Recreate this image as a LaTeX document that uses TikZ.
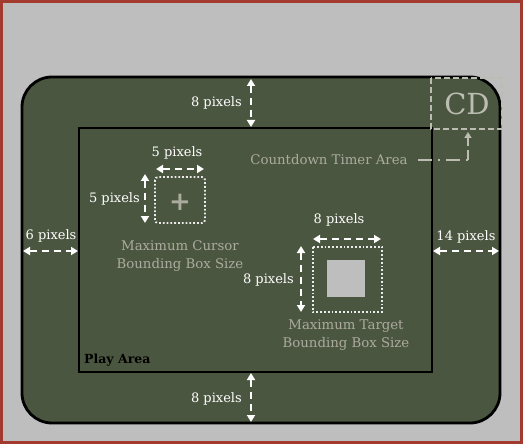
\documentclass[tikz,border=0pt]{standalone}
\usepackage{fontspec}
\setmainfont{DejaVu Serif}
\usetikzlibrary{arrows.meta}

\definecolor{frameRed}{HTML}{A33A2F}
\definecolor{screenGray}{HTML}{BEBEBE}
\definecolor{fieldGreen}{HTML}{4B5640}
\definecolor{noteGray}{HTML}{ABAB9F}

\tikzset{
  dimarrow/.style={white, line width=2.2pt, dash pattern=on 7pt off 5pt,
    {Triangle[width=8pt,length=7pt]}-{Triangle[width=8pt,length=7pt]}},
  dimlabel/.style={white, font=\fontsize{13}{15}\selectfont, inner sep=1pt},
  notelabel/.style={noteGray, font=\fontsize{13.3}{15}\selectfont, align=center, inner sep=0pt},
  boxline/.style={white!85!gray, line width=1.8pt, dotted},
}

\begin{document}
\begin{tikzpicture}[x=1pt,y=-1pt]

    % 背景
    \fill[frameRed] (0,0) rectangle (523,444);
    \fill[screenGray] (3,3) rectangle (520,441);
    \useasboundingbox (0,0) rectangle (523,444);

    % 画面と領域
    \fill[fieldGreen, rounded corners=30pt] (22,77) rectangle (500,423);
    \draw[black, line width=2.8pt, rounded corners=30pt] (22,77) rectangle (500,423);
    \draw[black, line width=2.8pt] (79,128) rectangle (432,372);
    \node[anchor=south west, font=\bfseries\fontsize{12.5}{14}\selectfont, inner sep=0pt] (play) at (84,366) {Play Area};

    % カウントダウン領域
    \draw[noteGray!80!white, line width=1.5pt, dash pattern=on 6pt off 3pt] (431,78) rectangle (502,129);
    \node[noteGray!80!white, font=\fontsize{29}{31}\selectfont] (cd) at (467,104) {CD};
    \node[notelabel] (timer) at (329,160) {Countdown Timer Area};
    \coordinate (timerBend) at (468,160);
    \coordinate (timerTip) at (468,132);
    \draw[noteGray!80!white, line width=1.5pt, dash pattern=on 14pt off 6pt on 2pt off 6pt]
      ([xshift=10pt]timer.east) -- (timerBend);
    \draw[noteGray!80!white, line width=1.5pt, dash pattern=on 10pt off 4pt, -{Triangle[width=7pt,length=6pt]}]
      (timerBend) -- (timerTip);

    % 余白の寸法
    \coordinate (topA) at (251,79);
    \coordinate (topB) at (251,127);
    \draw[dimarrow] (topA) -- (topB);
    \node[dimlabel, anchor=east] (topLabel) at (243,103) {8 pixels};

    \coordinate (botA) at (251,373);
    \coordinate (botB) at (251,422);
    \draw[dimarrow] (botA) -- (botB);
    \node[dimlabel, anchor=east] (botLabel) at (243,399) {8 pixels};

    \coordinate (leftA) at (23,251);
    \coordinate (leftB) at (78,251);
    \draw[dimarrow] (leftA) -- (leftB);
    \node[dimlabel] (leftLabel) at (51,236) {6 pixels};

    \coordinate (rightA) at (433,251);
    \coordinate (rightB) at (499,251);
    \draw[dimarrow] (rightA) -- (rightB);
    \node[dimlabel] (rightLabel) at (466,237) {14 pixels};

    % カーソル
    \draw[boxline, rounded corners=3pt] (155,177) rectangle (205,223);
    \node[noteGray, font=\fontsize{26}{28}\selectfont\bfseries] (cursor) at (180,202) {+};
    \coordinate (curHA) at (156,169);
    \coordinate (curHB) at (204,169);
    \draw[dimarrow] (curHA) -- (curHB);
    \node[dimlabel] (curHLabel) at (177,153) {5 pixels};
    \coordinate (curVA) at (145,174);
    \coordinate (curVB) at (145,223);
    \draw[dimarrow] (curVA) -- (curVB);
    \node[dimlabel, anchor=east] (curVLabel) at (141,199) {5 pixels};
    \node[notelabel] (curNote) at (180,256) {Maximum Cursor\\[3pt]Bounding Box Size};

    % ターゲット
    \draw[boxline] (313,247) rectangle (382,312);
    \fill[screenGray] (327,260) rectangle (365,297);
    \coordinate (tgtHA) at (313,239);
    \coordinate (tgtHB) at (381,239);
    \draw[dimarrow] (tgtHA) -- (tgtHB);
    \node[dimlabel] (tgtHLabel) at (339,220) {8 pixels};
    \coordinate (tgtVA) at (301,246);
    \coordinate (tgtVB) at (301,312);
    \draw[dimarrow] (tgtVA) -- (tgtVB);
    \node[dimlabel, anchor=east] (tgtVLabel) at (295,280) {8 pixels};
    \node[notelabel] (tgtNote) at (346,335) {Maximum Target\\[3pt]Bounding Box Size};

\end{tikzpicture}
\end{document}
